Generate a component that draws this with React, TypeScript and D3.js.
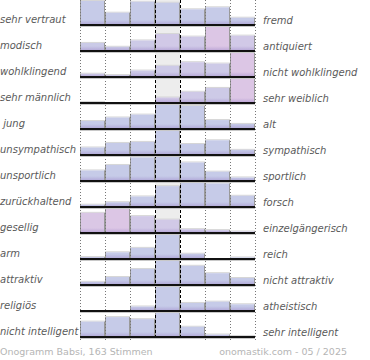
import React from 'react'
import * as d3 from 'd3'

const width = 370
const height = 360

// left / right pole of each scale
const leftLabels = ['sehr vertraut', 'modisch', 'wohlklingend', 'sehr männlich', ' jung', 'unsympathisch', 'unsportlich', 'zurückhaltend', 'gesellig', 'arm', 'attraktiv', 'religiös', 'nicht intelligent']
const rightLabels = ['fremd', 'antiquiert', 'nicht wohlklingend', 'sehr weiblich', 'alt', 'sympathisch', 'sportlich', 'forsch', 'einzelgängerisch', 'reich', 'nicht attraktiv', 'atheistisch', 'sehr intelligent']

// votes per step (7 steps)
const votes = [
  [24, 12.3, 23.3, 22.3, 15.7, 17.7, 7.3],
  [8.4, 4.4, 11, 17.7, 15, 25, 16],
  [3.4, 2, 6.7, 11.7, 15.4, 14, 25],
  [1, 0, 0, 5.7, 11.7, 15.7, 25],
  [8.3, 12, 15, 25, 24, 9.3, 5.3],
  [7.3, 11.7, 12.7, 23.3, 10.7, 14.3, 5],
  [11, 16.7, 24.5, 25, 19.3, 9.7, 3.7],
  [2.4, 5, 11, 21.7, 25, 24.5, 11.7],
  [21, 25, 17.6, 14, 4, 3, 1.6],
  [2, 7, 11.6, 25, 5.5, 0, 1.6],
  [3.3, 8.3, 16.7, 25, 20, 12.3, 7.3],
  [0, 0, 4.7, 25, 8.4, 9.7, 7],
  [15, 19.4, 17.4, 23.4, 10, 2.4, 1],
]

// share of female voters per step (blue -> pink)
const femaleShare = [
  [0, 0, 0, 0, 0, 0, 0],
  [0.2, 0.2, 0.3, 0.5, 0.4, 1, 0.5],
  [0.3, 0.3, 0.3, 0.3, 0.4, 0.3, 1],
  [0.3, 0, 0, 0.5, 0.4, 0.3, 1],
  [0, 0, 0, 0, 0, 0, 0],
  [0, 0, 0, 0, 0, 0, 0],
  [0, 0, 0, 0, 0, 0, 0],
  [0, 0, 0, 0, 0, 0, 0],
  [0.9, 1, 0.5, 0.5, 0.4, 0.4, 0.4],
  [0, 0, 0, 0, 0, 0, 0],
  [0, 0, 0, 0, 0, 0, 0],
  [0, 0, 0, 0, 0, 0, 0],
  [0, 0, 0, 0, 0, 0, 0],
]

const steps = d3.range(7)
const footerLeft = 'Onogramm Babsi, 163 Stimmen'
const footerRight = 'onomastik.com - 05 / 2025'

const x = d3.scaleBand<number>().domain(steps).range([80, 255])
const rowScale = d3.scaleBand<number>().domain(d3.range(leftLabels.length)).range([0, 338])
const barMax = 24
const tint = d3.interpolateRgb('#c6cbe8', '#dcc6e5')

export default function App() {
  const bw = x.bandwidth()
  return (
    <svg width={width} height={height} style={{ position: 'absolute', left: 0, top: 0 }} fontFamily="DejaVu Sans">
      <defs>
        <linearGradient id="foot" x1="0" y1="0" x2="0" y2="1">
          <stop offset="0" stopColor="#9d86c8" stopOpacity={0} />
          <stop offset="1" stopColor="#9d86c8" stopOpacity={0.55} />
        </linearGradient>
      </defs>
      <rect x={x(3)} y={0} width={bw} height={337} fill="#ededed" />

      {votes.map((row, r) => {
        const base = (rowScale(r) as number) + 25
        const h = d3.scaleLinear().domain([0, d3.max(row) as number]).range([0, barMax])
        return (
          <g key={r}>
            {row.map((v, i) => {
              const bh = h(v)
              if (bh <= 0) return null
              const bx = x(i) as number
              return (
                <g key={i}>
                  <rect x={bx} y={base - bh - 1} width={bw} height={1} fill="#d6d6d6" />
                  <rect x={bx} y={base - bh} width={bw} height={bh} fill={tint(femaleShare[r][i])} />
                  <rect x={bx} y={base - Math.min(bh, 5)} width={bw} height={Math.min(bh, 5)} fill="url(#foot)" />
                  <line x1={bx + 0.5} x2={bx + 0.5} y1={base - bh} y2={base} stroke="#9a9a9a" />
                  <line x1={bx + bw - 0.5} x2={bx + bw - 0.5} y1={base - bh} y2={base} stroke="#9a9a9a" />
                </g>
              )
            })}
          </g>
        )
      })}

      {[0, 1, 2, 5, 6, 7].map(i => {
        const gx = (i < 7 ? (x(i) as number) : 255) + 0.5
        return <line key={i} x1={gx} x2={gx} y1={0} y2={340} stroke="#777" strokeDasharray="1,2" />
      })}
      {[3, 4].map(i => (
        <line key={i} x1={(x(i) as number) + 0.5} x2={(x(i) as number) + 0.5} y1={0} y2={340} stroke="#000" strokeDasharray="3,2" />
      ))}

      {leftLabels.map((label, r) => {
        const base = (rowScale(r) as number) + 25
        return (
          <g key={r}>
            <line x1={80} x2={255} y1={base + 1.5} y2={base + 1.5} stroke="#c8c8c8" />
            <line x1={80} x2={255} y1={base} y2={base} stroke="#111" strokeWidth={1.8} />
            <text x={0} y={base - 2} fontSize={10} fontStyle="italic" fill="#5a5a5a" style={{ whiteSpace: 'pre' }}>{label}</text>
            <text x={263} y={base - 1.5} fontSize={10} fontStyle="italic" fill="#5a5a5a">{rightLabels[r]}</text>
          </g>
        )
      })}

      <text x={0} y={355} fontSize={9.5} fill="#b5b5b5">{footerLeft}</text>
      <text x={347} y={355} fontSize={9.5} fill="#b5b5b5" textAnchor="end">{footerRight}</text>
    </svg>
  )
}
